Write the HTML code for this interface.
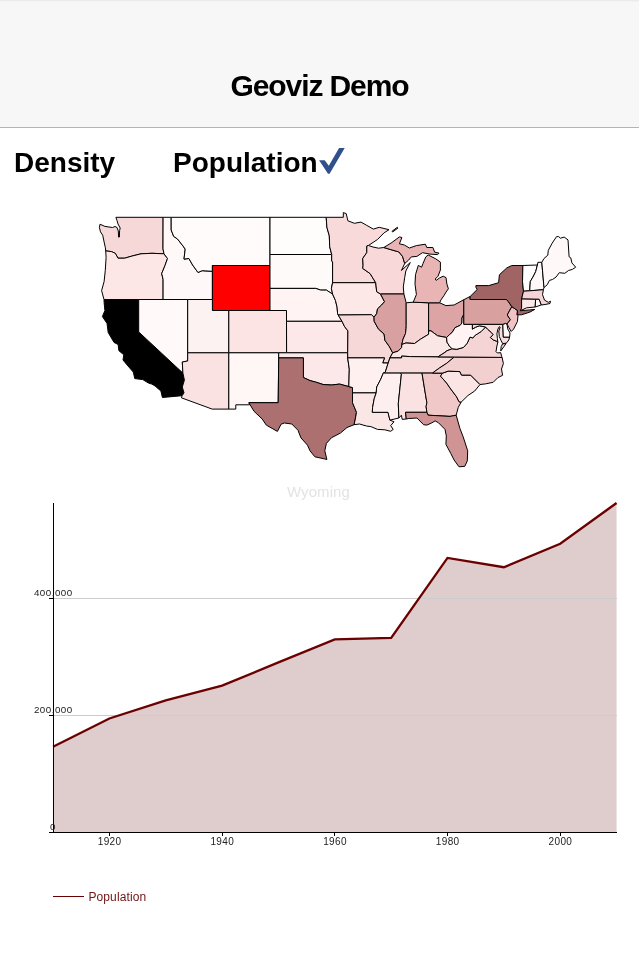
<!DOCTYPE html>
<html><head><meta charset="utf-8"><style>
html,body{margin:0;padding:0;background:#fff;width:639px;height:960px;overflow:hidden}
body{font-family:"Liberation Sans",sans-serif;position:relative}
#hdr{position:absolute;left:0;top:0;width:639px;height:127px;background:#f7f7f7;border-top:1px solid #ebebeb;box-sizing:border-box}
#hdr2{position:absolute;left:0;top:1px;width:639px;height:1px;background:#f3f3f3}
#hdrline{position:absolute;left:0;top:127px;width:639px;height:1px;background:#b4b4b4}

#title{position:absolute;left:0;width:639px;top:69px;text-align:center;font-weight:bold;font-size:30px;line-height:34px;color:#000;letter-spacing:-1.1px}
.tab{position:absolute;top:145.5px;font-weight:bold;font-size:28px;line-height:34px;color:#000}
svg{position:absolute;left:0;top:0;will-change:transform}
.tab,#title{will-change:transform}
</style></head><body>
<div id="hdr"></div><div id="hdr2"></div><div id="hdrline"></div>
<div id="title">Geoviz Demo</div>
<div class="tab" style="left:14px">Density</div>
<div class="tab" style="left:173px">Population</div>
<svg width="639" height="960" viewBox="0 0 639 960">
<path d="M319.1,160.2L324.7,160.2L328.8,165.7L339.1,148.0L344.7,148.0L329.6,173.8L328.0,173.8Z" fill="#30508c"/>
<g stroke="#000" stroke-width="1" stroke-linejoin="round">
<path d="M115.9,217.3L163.1,217.3L163.0,248.8L164.0,253.8L152.0,253.3L141.0,253.8L132.2,256.0L124.6,258.2L118.0,258.2L115.3,253.3L111.4,251.6L105.7,250.9L105.4,247.8L104.3,242.9L102.7,235.2L100.5,231.9L99.4,227.5L100.0,224.2L104.9,226.4L112.5,227.5L115.0,226.5L117.0,227.5L118.3,231.0L118.6,237.2L119.4,237.0L119.6,230.5L120.2,228.0L118.0,224.0L117.0,220.5L115.9,217.3Z" fill="#f6d8d8"/>
<path d="M105.7,250.9L111.4,251.6L115.3,253.3L118.0,258.2L124.6,258.2L132.2,256.0L141.0,253.8L152.0,253.3L164.0,253.8L167.5,258.5L165.0,265.5L161.7,273.6L163.1,279.3L163.1,299.5L138.7,299.5L104.0,299.5L101.6,290.6L104.1,281.6L105.3,270.2L106.1,257.4L105.7,250.9Z" fill="#fce6e6"/>
<path d="M104.0,299.5L138.7,299.5L138.7,331.9L182.9,373.1L184.4,380.1L182.3,387.0L184.0,392.9L182.1,395.7L162.4,397.5L160.9,391.0L155.1,386.0L151.8,384.1L148.5,383.1L142.8,379.6L134.8,378.6L133.3,372.1L128.0,366.0L123.0,360.0L123.8,354.8L118.9,350.7L118.1,344.5L114.0,342.4L108.2,332.5L107.0,323.4L102.4,316.6L104.9,310.5L104.1,302.3L104.0,299.5Z" fill="#000000"/>
<path d="M163.1,217.3L171.2,217.3L171.2,230.0L173.7,236.4L177.4,238.9L183.1,246.1L185.2,249.1L184.0,259.1L188.9,258.5L192.6,265.0L198.0,272.5L202.1,270.7L212.4,271.3L212.4,299.5L187.7,299.5L163.1,299.5L163.1,279.3L161.7,273.6L165.0,265.5L167.5,258.5L164.0,253.8L163.0,248.8L163.1,217.3Z" fill="#fff8f8"/>
<path d="M138.7,299.5L163.1,299.5L187.7,299.5L187.7,352.8L187.7,361.0L182.3,362.0L182.9,373.1L138.7,331.9L138.7,299.5Z" fill="#fff9f9"/>
<path d="M171.2,217.3L270.0,217.3L270.0,254.5L270.0,265.5L212.4,265.5L212.4,271.3L202.1,270.7L198.0,272.5L192.6,265.0L188.9,258.5L184.0,259.1L185.2,249.1L183.1,246.1L177.4,238.9L173.7,236.4L171.2,230.0L171.2,217.3Z" fill="#fffbfb"/>
<path d="M212.4,271.3L212.4,265.5L270.0,265.5L270.0,288.4L270.0,310.5L228.8,310.5L212.4,310.5L212.4,299.5L212.4,271.3Z" fill="#ff0000"/>
<path d="M187.7,299.5L212.4,299.5L212.4,310.5L228.8,310.5L228.8,352.8L187.7,352.8L187.7,299.5Z" fill="#fdf2f2"/>
<path d="M228.8,310.5L270.0,310.5L286.5,310.5L286.5,321.3L286.6,352.8L278.7,352.8L228.8,352.8L228.8,310.5Z" fill="#fce4e4"/>
<path d="M187.7,352.8L228.8,352.8L228.8,409.1L212.2,409.1L181.4,397.8L182.1,395.7L184.0,392.9L182.3,387.0L184.4,380.1L182.9,373.1L182.3,362.0L187.7,361.0L187.7,352.8Z" fill="#fbe2e2"/>
<path d="M228.8,352.8L278.7,352.8L278.7,357.9L278.2,402.7L248.9,402.7L249.6,404.8L235.8,404.8L235.8,409.1L228.8,409.1L228.8,352.8Z" fill="#fff6f6"/>
<path d="M270.0,217.3L326.2,217.3L326.9,227.3L329.3,235.8L329.7,246.7L331.7,254.5L270.0,254.5L270.0,217.3Z" fill="#fffcfc"/>
<path d="M270.0,254.5L331.7,254.5L331.7,260.9L332.6,262.0L332.6,282.7L331.4,288.4L332.6,294.1L326.4,290.1L320.7,290.1L315.7,288.4L270.0,288.4L270.0,265.5L270.0,254.5Z" fill="#fffafa"/>
<path d="M270.0,288.4L315.7,288.4L320.7,290.1L326.4,290.1L332.6,294.1L335.5,300.6L337.1,307.2L337.6,313.7L338.2,315.0L342.0,321.3L286.5,321.3L286.5,310.5L270.0,310.5L270.0,288.4Z" fill="#fff3f3"/>
<path d="M286.5,321.3L342.0,321.3L344.6,326.6L347.9,330.9L347.7,352.8L286.6,352.8L286.5,321.3Z" fill="#fce8e8"/>
<path d="M278.7,352.8L286.6,352.8L347.7,352.8L347.7,357.9L349.3,369.1L348.8,386.6L339.6,384.1L331.4,385.0L323.1,384.5L315.7,382.1L310.0,380.6L303.4,377.5L303.4,357.9L278.7,357.9L278.7,352.8Z" fill="#fce8e8"/>
<path d="M278.7,357.9L303.4,357.9L303.4,377.5L310.0,380.6L315.7,382.1L323.1,384.5L331.4,385.0L339.6,384.1L348.8,386.6L352.5,387.5L352.5,392.9L352.5,402.7L356.5,412.3L355.3,419.0L354.1,424.7L347.0,427.5L340.4,433.1L331.4,437.8L326.4,443.4L324.8,450.8L326.9,459.5L323.1,458.6L314.9,456.8L310.0,450.8L307.5,445.2L300.9,437.8L298.0,430.3L291.8,424.0L284.4,423.0L281.1,424.2L277.4,431.4L272.1,428.4L266.3,425.1L262.2,419.0L254.0,411.3L248.9,402.7L278.2,402.7L278.7,357.9Z" fill="#ac7070"/>
<path d="M326.2,217.3L343.3,217.3L343.3,212.6L346.2,213.6L347.9,220.8L354.4,223.3L361.0,222.1L366.8,225.4L373.4,229.1L379.2,227.3L389.0,229.7L384.1,232.8L377.5,239.5L368.4,245.5L366.8,246.0L366.8,252.6L362.7,258.5L363.1,265.5L362.7,268.4L370.1,273.6L375.7,282.7L332.6,282.7L332.6,262.0L331.7,260.9L331.7,254.5L329.7,246.7L329.3,235.8L326.9,227.3L326.2,217.3Z" fill="#f8dada"/>
<path d="M332.6,282.7L375.7,282.7L376.7,291.7L380.5,294.0L384.5,301.7L381.6,305.0L377.5,308.9L376.7,313.7L374.0,317.2L371.5,314.7L338.2,315.0L337.6,313.7L337.1,307.2L335.5,300.6L332.6,294.1L331.4,288.4L332.6,282.7Z" fill="#fde8e8"/>
<path d="M338.2,315.0L371.5,314.7L374.0,317.2L374.2,321.3L378.3,328.8L384.1,334.1L384.9,340.3L389.4,346.6L392.7,352.8L389.9,357.9L388.2,363.0L382.7,363.0L384.5,357.9L347.7,357.9L347.7,352.8L347.9,330.9L344.6,326.6L342.0,321.3L338.2,315.0Z" fill="#f7d8d8"/>
<path d="M347.7,357.9L384.5,357.9L382.7,363.0L388.2,363.0L385.3,372.1L383.3,373.1L380.8,379.1L376.7,387.0L376.2,392.9L352.5,392.9L352.5,387.5L348.8,386.6L349.3,369.1L347.7,357.9Z" fill="#fff0f0"/>
<path d="M352.5,392.9L376.2,392.9L374.2,398.8L372.6,407.5L372.3,412.3L388.0,412.3L389.9,420.1L394.0,421.8L390.7,425.6L393.2,429.4L390.7,431.3L384.9,429.8L377.5,429.4L370.9,426.6L366.8,426.1L359.4,424.0L354.1,424.7L355.3,419.0L356.5,412.3L352.5,402.7L352.5,392.9Z" fill="#fbe6e6"/>
<path d="M368.4,245.5L373.0,247.0L378.5,248.2L383.8,247.5L390.0,249.4L398.8,251.9L402.5,256.3L404.7,263.5L401.4,270.5L409.5,263.2L410.3,262.5L405.8,271.0L404.7,277.6L403.3,286.9L403.9,294.0L380.5,294.0L376.7,291.7L375.7,282.7L370.1,273.6L362.7,268.4L363.1,265.5L362.7,258.5L366.8,252.6L366.8,246.0L368.4,245.5Z" fill="#f8d8d8"/>
<path d="M380.5,294.0L403.9,294.0L406.2,302.8L406.2,325.6L406.1,328.2L405.5,333.5L403.0,339.3L401.8,344.5L401.6,347.6L398.1,351.2L392.7,352.8L389.4,346.6L384.9,340.3L384.1,334.1L378.3,328.8L374.2,321.3L374.0,317.2L376.7,313.7L377.5,308.9L381.6,305.0L384.5,301.7L380.5,294.0Z" fill="#d8a0a0"/>
<path d="M413.1,302.2L406.2,302.8L406.2,325.6L406.1,328.2L405.5,333.5L403.0,339.3L401.8,344.5L405.9,343.0L414.6,343.5L420.3,339.3L428.6,334.3L428.6,330.9L428.6,302.8L413.1,302.2Z" fill="#f6d4d4"/>
<path d="M428.6,302.8L439.7,302.8L445.9,305.6L454.1,305.0L463.8,299.7L463.8,314.4L462.0,318.0L461.9,323.0L460.2,325.3L455.0,327.7L452.2,332.4L449.4,334.7L446.6,337.5L437.6,335.8L431.0,330.9L428.6,330.9L428.6,302.8Z" fill="#dca4a4"/>
<path d="M439.7,302.8L440.8,300.1L444.1,295.4L446.0,292.1L448.4,288.8L446.9,284.1L446.0,277.6L443.2,276.2L439.4,278.0L436.2,280.4L435.2,279.0L438.0,276.2L440.4,270.0L440.4,262.1L435.7,258.8L428.2,255.0L425.8,256.9L423.0,263.5L421.6,267.2L418.3,265.4L415.5,274.7L415.0,284.1L416.4,294.5L414.1,300.1L413.1,302.2L428.6,302.8L439.7,302.8Z" fill="#e8b4b4"/>
<path d="M383.8,247.5L391.9,242.5L399.4,236.9L401.9,237.5L399.4,243.8L404.4,245.0L409.4,248.0L416.4,245.6L425.4,244.2L426.8,247.5L432.9,247.5L434.7,252.2L439.0,253.1L437.6,254.6L430.0,254.1L422.5,252.7L416.9,256.4L411.3,256.9L408.5,260.2L404.7,263.5L402.5,256.3L398.8,251.9L390.0,249.4L383.8,247.5Z" fill="#e8b4b4"/>
<path d="M392.7,352.8L398.1,351.2L401.6,347.6L401.8,344.5L405.9,343.0L414.6,343.5L420.3,339.3L428.6,334.3L428.6,330.9L431.0,330.9L437.6,335.8L446.6,337.5L447.0,342.2L449.4,346.0L452.2,348.8L446.3,351.0L445.9,351.8L437.9,356.9L410.4,356.6L401.6,356.1L401.6,357.9L389.9,357.9L392.7,352.8Z" fill="#fbe6e6"/>
<path d="M389.9,357.9L401.6,357.9L401.6,356.1L410.4,356.6L437.9,356.9L454.3,357.0L446.7,363.3L439.3,368.1L432.5,373.1L422.0,373.1L400.6,373.1L383.3,373.1L385.3,372.1L388.2,363.0L389.9,357.9Z" fill="#f8dcdc"/>
<path d="M376.2,392.9L376.7,387.0L380.8,379.1L383.3,373.1L400.6,373.1L401.4,374.1L398.3,403.6L398.9,418.0L389.9,420.1L388.0,412.3L372.3,412.3L372.6,407.5L374.2,398.8L376.2,392.9Z" fill="#fdefef"/>
<path d="M400.6,373.1L422.0,373.1L425.4,393.9L426.9,402.7L426.1,406.5L426.9,412.3L405.5,412.3L406.3,419.0L402.2,419.4L401.4,415.2L398.9,418.0L398.3,403.6L401.4,374.1L400.6,373.1Z" fill="#fae2e2"/>
<path d="M422.0,373.1L432.5,373.1L442.6,373.1L440.5,376.1L446.7,383.1L450.0,388.0L456.6,396.8L459.0,401.7L461.1,402.2L458.2,407.5L456.2,415.2L451.6,416.1L450.0,416.4L428.1,415.2L426.9,412.3L426.1,406.5L426.9,402.7L425.4,393.9L422.0,373.1Z" fill="#f0c8c8"/>
<path d="M426.9,412.3L428.1,415.2L450.0,416.4L451.6,416.1L456.2,415.2L459.9,428.4L463.2,436.9L467.7,450.8L467.3,460.9L464.8,466.3L459.0,466.8L454.1,460.0L450.8,453.5L445.9,444.3L446.3,435.9L445.0,429.4L438.5,422.8L435.2,420.9L431.9,422.8L426.9,425.1L423.6,424.7L417.0,418.0L408.8,418.5L406.3,419.0L405.5,412.3L426.9,412.3Z" fill="#d19494"/>
<path d="M461.1,402.2L459.0,401.7L456.6,396.8L450.0,388.0L446.7,383.1L440.5,376.1L442.6,373.1L448.3,371.1L459.9,371.6L461.5,375.1L470.6,375.1L480.0,384.5L474.7,391.0L468.1,395.4L461.1,402.2Z" fill="#fae4e4"/>
<path d="M432.5,373.1L439.3,368.1L446.7,363.3L454.3,357.0L502.1,357.4L503.4,363.6L501.5,369.0L502.6,375.3L497.9,377.6L493.2,382.3L485.4,383.9L480.0,384.5L470.6,375.1L461.5,375.1L459.9,371.6L448.3,371.1L442.6,373.1L432.5,373.1Z" fill="#f3d0d0"/>
<path d="M502.1,357.4L454.3,357.0L437.9,356.9L445.9,351.8L446.3,351.0L452.2,348.8L456.9,349.3L463.5,347.4L467.2,343.2L470.0,337.1L472.9,338.0L475.2,335.2L477.6,333.8L481.3,331.4L485.6,327.0L487.5,329.1L491.3,332.4L493.2,334.7L490.4,337.5L493.2,339.9L496.9,341.3L497.9,342.2L496.9,346.0L496.0,351.6L497.4,353.0L500.7,352.6L501.6,356.3L502.1,357.4Z" fill="#f4d4d4"/>
<path d="M485.6,327.0L481.3,331.4L477.6,333.8L475.2,335.2L472.9,338.0L470.0,337.1L467.2,343.2L463.5,347.4L456.9,349.3L452.2,348.8L449.4,346.0L447.0,342.2L446.6,337.5L449.4,334.7L452.2,332.4L455.0,327.7L460.2,325.3L461.9,323.0L462.0,318.0L463.8,314.4L463.8,324.3L472.4,324.3L472.4,329.1L475.6,327.2L479.4,325.8L485.6,327.0Z" fill="#fff3f3"/>
<path d="M485.6,327.0L479.4,325.8L475.6,327.2L472.4,329.1L472.4,324.3L502.8,324.3L503.3,337.1L509.6,337.1L508.8,340.0L506.3,343.2L502.6,343.5L501.2,340.8L499.3,336.6L498.8,331.0L500.2,327.2L499.3,326.7L497.9,329.1L496.9,333.8L497.4,338.5L497.9,342.2L496.9,341.3L493.2,339.9L490.4,337.5L493.2,334.7L491.3,332.4L487.5,329.1L485.6,327.0Z" fill="#f8dede"/>
<path d="M509.6,337.1L503.3,337.1L502.8,324.3L505.4,323.4L507.0,324.0L507.8,329.0L510.0,333.0L509.6,337.1Z" fill="#fff8f8"/>
<path d="M463.8,314.4L463.8,324.3L472.4,324.3L502.8,324.3L505.4,323.4L507.0,324.0L510.4,319.7L507.3,315.0L508.9,311.9L511.8,306.7L508.5,301.7L506.3,299.5L470.1,299.5L470.1,296.5L463.8,299.7L463.8,314.4Z" fill="#d9a0a0"/>
<path d="M507.0,324.0L510.4,319.7L507.3,315.0L508.9,311.9L511.8,306.7L517.5,310.5L517.1,314.8L518.2,312.5L517.5,321.3L513.6,329.1L511.2,331.5L508.9,327.6L507.0,324.0Z" fill="#f0c4c4"/>
<path d="M470.1,296.5L470.1,299.5L506.3,299.5L508.5,301.7L511.8,306.7L517.5,310.5L517.1,314.8L521.6,314.8L529.9,312.1L534.8,309.4L529.9,309.9L520.4,310.7L521.6,308.3L521.6,299.0L523.5,291.2L522.5,281.6L522.9,265.5L511.8,265.5L506.8,267.9L499.4,274.8L498.6,282.7L488.7,285.6L475.9,285.6L475.9,287.3L477.2,289.5L470.1,296.5Z" fill="#a06464"/>
<path d="M522.9,265.5L537.4,265.0L535.7,271.6L533.5,276.0L530.3,281.5L529.7,290.8L523.5,291.2L522.5,281.6L522.9,265.5Z" fill="#fffefe"/>
<path d="M537.4,265.0L537.9,262.3L541.8,262.3L544.0,287.5L543.4,289.7L529.7,290.8L530.3,281.5L533.5,276.0L535.7,271.6L537.4,265.0Z" fill="#fff8f8"/>
<path d="M544.0,287.5L541.8,262.3L544.0,258.5L547.8,255.2L548.3,250.3L552.2,243.1L556.6,236.6L558.7,236.6L560.4,238.2L564.2,237.1L568.0,239.9L569.1,256.8L570.8,257.9L571.9,262.9L575.7,267.2L572.4,269.4L568.5,270.5L564.8,273.3L559.3,272.7L556.0,277.1L552.5,279.5L549.4,280.4L547.2,284.8L544.0,287.5Z" fill="#fff8f8"/>
<path d="M529.7,290.8L543.4,289.7L542.5,294.6L544.5,300.1L548.3,302.3L550.5,301.2L550.0,303.5L545.0,304.5L541.2,305.0L539.1,299.3L535.6,299.3L521.6,299.0L523.5,291.2L529.7,290.8Z" fill="#f4d4d4"/>
<path d="M521.6,299.0L535.6,299.3L535.2,307.0L526.6,307.8L520.4,310.7L521.6,308.3L521.6,299.0Z" fill="#fce8e8"/>
<path d="M535.6,299.3L539.1,299.3L541.2,305.0L535.2,307.0L535.6,299.3Z" fill="#fffafa"/>
<path d="M392.0,231.3L397.3,227.3L398.0,228.0L392.6,232.0L392.0,231.3Z" fill="#e8b4b4"/>
<path d="M502.6,343.9L506.0,343.6L504.0,346.5L500.7,351.0L501.2,346.5L502.6,343.9Z" fill="#f4d4d4"/>
</g>
<text x="287.0" y="497.4" font-size="15" fill="#e3e3e3" textLength="62.8" lengthAdjust="spacing">Wyoming</text>
<path d="M53.05,746.80L109.40,718.52L165.75,700.33L222.10,685.64L278.45,662.41L334.80,639.33L391.15,637.96L447.50,557.91L503.85,567.23L560.20,543.77L616.55,503.00L616.55,832.0L53.05,832.0Z" fill="#dfcdcd" stroke="none"/>
<line x1="53.5" y1="598.5" x2="617" y2="598.5" stroke="#cccccc" stroke-width="1"/>
<line x1="53.5" y1="715.5" x2="617" y2="715.5" stroke="#cccccc" stroke-width="1"/>
<path d="M53.05,746.80L109.40,718.52L165.75,700.33L222.10,685.64L278.45,662.41L334.80,639.33L391.15,637.96L447.50,557.91L503.85,567.23L560.20,543.77L616.55,503.00" fill="none" stroke="#6b0000" stroke-width="2.3"/>
<g font-size="9.8" fill="#222">
<line x1="53.5" y1="503" x2="53.5" y2="832" stroke="#000" stroke-width="1"/>
<line x1="49" y1="832.5" x2="617" y2="832.5" stroke="#000" stroke-width="1"/>
<line x1="49" y1="598.5" x2="53" y2="598.5" stroke="#000"/>
<line x1="49" y1="715.5" x2="53" y2="715.5" stroke="#000"/>
<text x="33.9" y="595.9" textLength="38.3" lengthAdjust="spacing">400,000</text>
<text x="33.9" y="712.9" textLength="38.3" lengthAdjust="spacing">200,000</text>
<text x="49.9" y="829.9">0</text>
<line x1="109.5" y1="832" x2="109.5" y2="836" stroke="#000" stroke-width="1"/><text x="109.40" y="845" text-anchor="middle" textLength="23.3" lengthAdjust="spacing" font-size="10">1920</text><line x1="222.5" y1="832" x2="222.5" y2="836" stroke="#000" stroke-width="1"/><text x="222.10" y="845" text-anchor="middle" textLength="23.3" lengthAdjust="spacing" font-size="10">1940</text><line x1="334.5" y1="832" x2="334.5" y2="836" stroke="#000" stroke-width="1"/><text x="334.80" y="845" text-anchor="middle" textLength="23.3" lengthAdjust="spacing" font-size="10">1960</text><line x1="447.5" y1="832" x2="447.5" y2="836" stroke="#000" stroke-width="1"/><text x="447.50" y="845" text-anchor="middle" textLength="23.3" lengthAdjust="spacing" font-size="10">1980</text><line x1="560.5" y1="832" x2="560.5" y2="836" stroke="#000" stroke-width="1"/><text x="560.20" y="845" text-anchor="middle" textLength="23.3" lengthAdjust="spacing" font-size="10">2000</text>
</g>
<line x1="53" y1="896.5" x2="84" y2="896.5" stroke="#6b0000" stroke-width="1"/>
<text x="88.4" y="900.7" font-size="12" fill="#701414" textLength="57.8" lengthAdjust="spacing">Population</text>
</svg>
</body></html>
